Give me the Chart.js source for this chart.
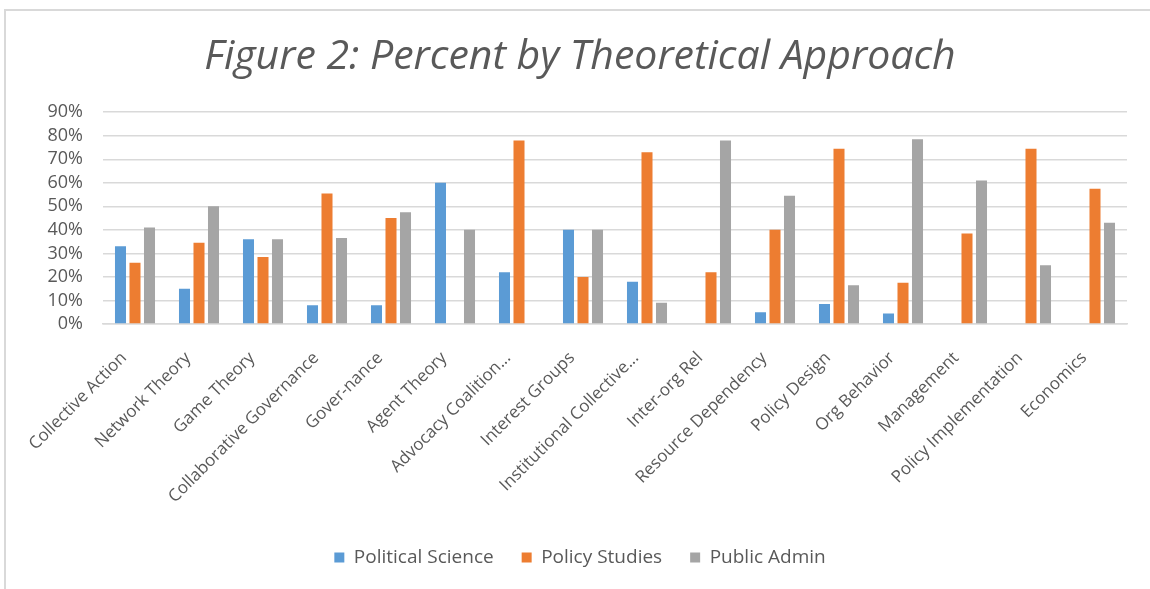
<!DOCTYPE html>
<html>
<head>
<meta charset="utf-8">
<script src="https://cdn.jsdelivr.net/npm/chart.js@4"></script>
<style>
  html, body { margin: 0; padding: 0; background: #fff; overflow: hidden; }
  #wrap { position: relative; width: 1150px; height: 589px; }
  #frame { position: absolute; left: 4px; top: 9px; width: 1200px; height: 700px;
           border-left: 2px solid #d9d9d9; border-top: 2px solid #d9d9d9; }
  canvas { position: absolute; left: 0; top: 0; }
</style>
</head>
<body>
<div id="wrap">
  <div id="frame"></div>
  <canvas id="chart" width="1150" height="589"></canvas>
</div>
<script>
// Theoretical approaches (x categories)
const categories = [
  'Collective Action', 'Network Theory', 'Game Theory', 'Collaborative Governance',
  'Gover-nance', 'Agent Theory', 'Advocacy Coalition...', 'Interest Groups',
  'Institutional Collective...', 'Inter-org Rel', 'Resource Dependency', 'Policy Design',
  'Org Behavior', 'Management', 'Policy Implementation', 'Economics'
];

// Percent of studies per discipline
const politicalScience = [33, 15, 36, 8, 8, 60, 22, 40, 18, 0, 5, 8.5, 4.5, 0, 0, 0];
const policyStudies    = [26, 34.5, 28.5, 55.5, 45, 0, 78, 20, 73, 22, 40, 74.5, 17.5, 38.5, 74.5, 57.5];
const publicAdmin      = [41, 50, 36, 36.5, 47.5, 40, 0, 40, 9, 78, 54.5, 16.5, 78.5, 61, 25, 43];

const seriesNames = ['Political Science', 'Policy Studies', 'Public Admin'];
const yTicks = [0, 10, 20, 30, 40, 50, 60, 70, 80, 90];

const colors = ['#5B9BD5', '#ED7D31', '#A5A5A5'];
const textColor = '#595959';
const gridColor = '#d9d9d9';
const FONT = '"Open Sans", "Noto Sans", sans-serif';

const PAD_LEFT = 10, PAD_BOTTOM = 12;
const PLOT_LEFT = 103, PLOT_RIGHT = 1127, PLOT_BOTTOM = 324;

new Chart(document.getElementById('chart'), {
  type: 'bar',
  data: {
    labels: categories,
    datasets: [politicalScience, policyStudies, publicAdmin].map((vals, i) => ({
      label: seriesNames[i],
      data: vals,
      backgroundColor: colors[i],
      borderWidth: 0,
      categoryPercentage: 0.68,
      barPercentage: 0.76
    }))
  },
  options: {
    responsive: false,
    animation: false,
    layout: { padding: { left: PAD_LEFT, right: 0, top: 14, bottom: PAD_BOTTOM } },
    plugins: {
      title: {
        display: true,
        text: 'Figure 2: Percent by Theoretical Approach',
        color: textColor,
        font: { family: FONT, size: 41, style: 'italic', weight: '400' },
        padding: { top: 19, bottom: 30 }
      },
      legend: {
        position: 'bottom',
        labels: {
          color: textColor,
          font: { family: FONT, size: 19 },
          boxWidth: 10,
          boxHeight: 10,
          padding: 28
        }
      },
      tooltip: { enabled: false }
    },
    scales: {
      x: {
        grid: { display: false, drawTicks: false },
        border: { display: true, color: gridColor, width: 1.5 },
        ticks: {
          color: textColor,
          font: { family: FONT, size: 17 },
          maxRotation: 45,
          minRotation: 45,
          autoSkip: false,
          padding: 24,
          labelOffset: -11
        },
        afterFit(scale) {
          const lg = scale.chart.legend;
          const legendH = lg && lg.height ? lg.height : 56;
          scale.height = scale.chart.height - PAD_BOTTOM - legendH - PLOT_BOTTOM;
        }
      },
      y: {
        min: 0,
        max: 90,
        grid: { color: gridColor, lineWidth: 1.5, drawTicks: false },
        border: { display: false },
        afterBuildTicks(scale) {
          scale.ticks = yTicks.map(v => ({ value: v }));
        },
        ticks: {
          color: textColor,
          font: { family: FONT, size: 18 },
          padding: 20,
          autoSkip: false,
          callback: v => v + '%'
        },
        afterFit(scale) { scale.width = PLOT_LEFT - PAD_LEFT; }
      },
      yRight: {
        position: 'right',
        display: true,
        grid: { display: false, drawTicks: false },
        border: { display: false },
        ticks: { display: false },
        afterFit(scale) { scale.width = 1150 - PLOT_RIGHT; }
      }
    }
  }
});
</script>
</body>
</html>
